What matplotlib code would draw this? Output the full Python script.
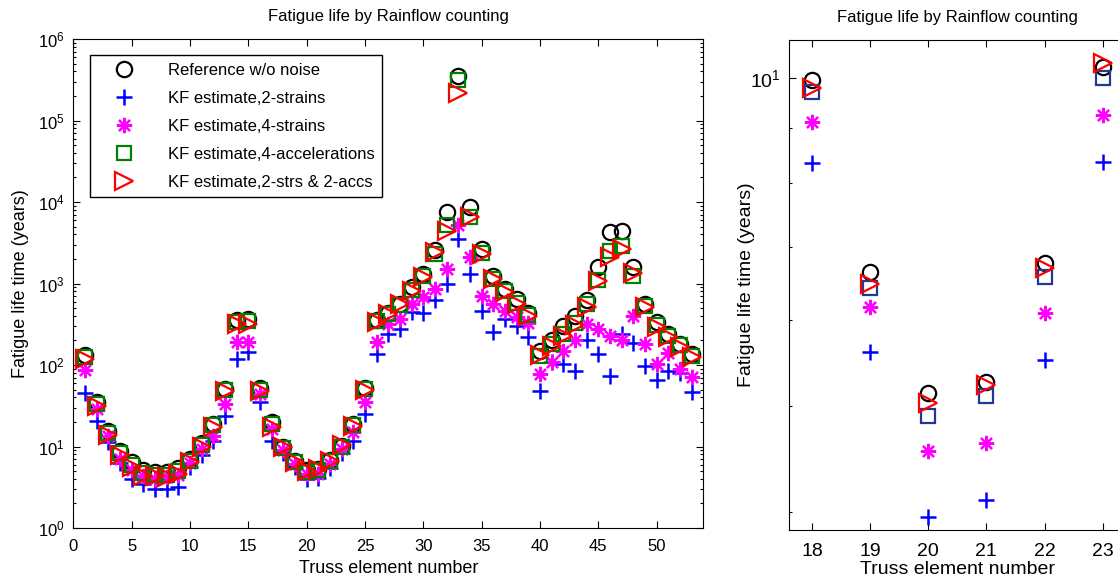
import matplotlib
matplotlib.use('Agg')
import matplotlib.pyplot as plt
import numpy as np
from matplotlib.ticker import LogLocator, NullFormatter, FixedLocator

plt.rcParams['font.family'] = ['Liberation Sans', 'DejaVu Sans']
plt.rcParams['mathtext.fontset'] = 'custom'
plt.rcParams['mathtext.rm'] = 'Liberation Sans'

elements = np.arange(1, 54)

ref_no_noise = [131, 35, 15.7, 8.9, 6.4, 5.1, 4.8, 4.9, 5.4, 7.1, 10.9, 19, 51, 359, 370,
                52.5, 19.9, 9.95, 6.64, 5.14, 5.26, 6.76, 10.23, 19, 52.5, 352, 430, 565,
                900, 1315, 2590, 7500, 356000, 8630, 2660, 1250, 860, 645, 430, 150, 200,
                305, 405, 620, 1590, 4260, 4470, 1590, 565, 335, 240, 182, 137]
kf_2_strains = [45, 20.8, 11.3, 6.2, 4.0, 3.5, 3.05, 3.05, 3.17, 5.6, 7.8, 11.8, 24, 119,
                144, 35, 11.8, 8.35, 5.61, 3.96, 4.10, 5.51, 8.37, 11.8, 25, 137, 240, 278,
                444, 430, 620, 1000, 3530, 1315, 466, 253, 370, 300, 218, 48.6, 110, 103,
                85, 204, 137, 73, 240, 185, 96, 65, 85, 80, 47]
kf_4_strains = [86, 29, 13.3, 7.0, 5.1, 4.3, 4.05, 4.2, 4.5, 6.3, 9.4, 13.6, 33, 190, 190,
                44.6, 16.6, 9.11, 6.17, 4.55, 4.63, 6.09, 9.24, 14.9, 35, 190, 320, 370, 560,
                680, 860, 1510, 5150, 2100, 700, 565, 466, 386, 330, 78, 108, 150, 200, 320,
                278, 230, 200, 405, 180, 103, 140, 89, 72]
kf_4_accs = [125, 33, 14.8, 8.3, 5.9, 4.7, 4.5, 4.5, 5.0, 6.7, 10.3, 18.3, 50, 340, 345,
             50, 18.7, 9.71, 6.41, 4.90, 5.11, 6.57, 9.99, 18.5, 51, 345, 420, 550, 830,
             1250, 2300, 5150, 310000, 6500, 2400, 1150, 800, 580, 410, 130, 180, 240, 330,
             560, 1090, 2530, 2900, 1250, 530, 310, 230, 175, 130]
kf_2strs_2accs = [120, 31.8, 14, 7.8, 5.6, 4.4, 4.4, 4.2, 4.66, 6.4, 9.8, 17.6, 48.6, 320,
                  320, 48.6, 17.6, 9.78, 6.47, 5.03, 5.23, 6.69, 10.31, 18.1, 49.5, 340, 425,
                  560, 820, 1195, 2450, 4470, 220000, 6510, 2310, 1140, 780, 565, 400, 131,
                  173, 230, 310, 520, 1060, 2100, 2650, 1340, 510, 290, 218, 165, 124]

labels = ['Reference w/o noise', 'KF estimate,2-strains', 'KF estimate,4-strains',
          'KF estimate,4-accelerations', 'KF estimate,2-strs & 2-accs']

zoom_lo, zoom_hi = 18, 23

asterisk = (8, 2, 0)


def style_axes(ax, tick_size, xpad, ypad):
    ax.tick_params(which='both', direction='in', top=True, right=True,
                   labelsize=tick_size, width=0.8)
    ax.tick_params(which='major', length=5)
    ax.tick_params(which='minor', length=2.5)
    ax.tick_params(axis='x', which='both', pad=xpad)
    ax.tick_params(axis='y', which='both', pad=ypad)
    for sp in ax.spines.values():
        sp.set_linewidth(0.8)


def draw(ax, sq_color):
    kw = dict(linestyle='none', markerfacecolor='none', markeredgewidth=1.6)
    ax.plot(elements, ref_no_noise, marker='o', color='black', markersize=11, **kw,
            label=labels[0])
    ax.plot(elements, kf_2_strains, marker='+', color='#0000ff', markersize=12,
            linestyle='none', markeredgewidth=1.8, label=labels[1])
    ax.plot(elements, kf_4_strains, marker=asterisk, color='#ff00ff', markersize=11,
            linestyle='none', markeredgewidth=1.6, label=labels[2])
    ax.plot(elements, kf_4_accs, marker='s', color=sq_color, markersize=10, **kw,
            label=labels[3])
    ax.plot(elements, kf_2strs_2accs, marker='>', color='#ff0000', markersize=13, **kw,
            label=labels[4])


fig = plt.figure(figsize=(11.18, 5.83), dpi=100)

# left: all elements
ax1 = fig.add_axes([0.0656, 0.0943, 0.5635, 0.8388])
draw(ax1, '#008000')
ax1.set_yscale('log')
ax1.set_xlim(0, 54)
ax1.set_ylim(1, 1e6)
ax1.set_xticks([0, 5, 10, 15, 20, 25, 30, 35, 40, 45, 50])
ax1.yaxis.set_major_locator(LogLocator(base=10, numticks=10))
ax1.yaxis.set_minor_locator(LogLocator(base=10, subs=np.arange(2, 10), numticks=20))
ax1.yaxis.set_minor_formatter(NullFormatter())
style_axes(ax1, 12, 8, 6)
ax1.set_xlabel('Truss element number', fontsize=13, labelpad=4)
ax1.set_ylabel('Fatigue life time (years)', fontsize=13, labelpad=7)
ax1.set_title('Fatigue life by Rainflow counting', fontsize=12, pad=13)
leg = ax1.legend(loc='upper left', bbox_to_anchor=(0.0265, 0.967), borderaxespad=0,
                 fontsize=12, fancybox=False, edgecolor='black', framealpha=1,
                 handletextpad=1.0, labelspacing=0.78, borderpad=0.45, handlelength=3.2)
leg.get_frame().set_linewidth(1.0)

# right: zoom on elements 18-23
ax2 = fig.add_axes([0.7054, 0.0909, 0.3017, 0.8405])
draw(ax2, '#1f3a93')
ax2.set_yscale('log')
ax2.set_xlim(17.6, 23.4)
ax2.set_ylim(3.85, 10.83)
ax2.set_xticks(range(zoom_lo, zoom_hi + 1))
ax2.yaxis.set_major_locator(FixedLocator([10]))
ax2.yaxis.set_minor_locator(FixedLocator([4, 5, 6, 7, 8, 9]))
ax2.yaxis.set_minor_formatter(NullFormatter())
style_axes(ax2, 14, 9, 6)
ax2.set_xlabel('Truss element number', fontsize=14, labelpad=1)
ax2.set_ylabel('Fatigue life time (years)', fontsize=14, labelpad=-4)
ax2.set_title('Fatigue life by Rainflow counting', fontsize=12, pad=13)

fig.savefig('out.png', dpi=100)
